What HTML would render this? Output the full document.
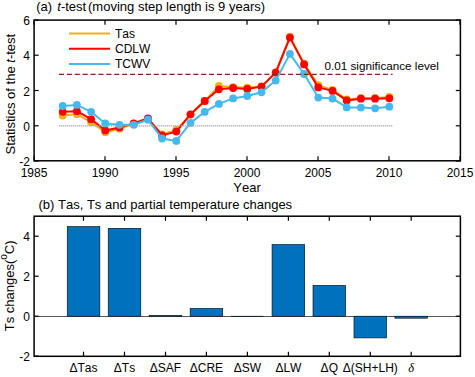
<!DOCTYPE html>
<html><head><meta charset="utf-8"><style>
html,body{margin:0;padding:0;background:#fff;}
svg{display:block;font-family:"Liberation Sans",sans-serif;font-kerning:none;}
</style></head><body>
<svg width="475" height="377" viewBox="0 0 475 377">
<rect width="475" height="377" fill="#fff"/>
<rect x="34.1" y="20.1" width="426.29999999999995" height="140.70000000000002" fill="none" stroke="#000" stroke-width="1.5"/>
<line x1="34.0" y1="160.8" x2="34.0" y2="156.20000000000002" stroke="#000" stroke-width="1.2"/>
<line x1="34.0" y1="20.1" x2="34.0" y2="24.700000000000003" stroke="#000" stroke-width="1.2"/>
<text x="34.0" y="176.6" font-size="12" text-anchor="middle">1985</text>
<line x1="105.0" y1="160.8" x2="105.0" y2="156.20000000000002" stroke="#000" stroke-width="1.2"/>
<line x1="105.0" y1="20.1" x2="105.0" y2="24.700000000000003" stroke="#000" stroke-width="1.2"/>
<text x="105.0" y="176.6" font-size="12" text-anchor="middle">1990</text>
<line x1="176.0" y1="160.8" x2="176.0" y2="156.20000000000002" stroke="#000" stroke-width="1.2"/>
<line x1="176.0" y1="20.1" x2="176.0" y2="24.700000000000003" stroke="#000" stroke-width="1.2"/>
<text x="176.0" y="176.6" font-size="12" text-anchor="middle">1995</text>
<line x1="247.0" y1="160.8" x2="247.0" y2="156.20000000000002" stroke="#000" stroke-width="1.2"/>
<line x1="247.0" y1="20.1" x2="247.0" y2="24.700000000000003" stroke="#000" stroke-width="1.2"/>
<text x="247.0" y="176.6" font-size="12" text-anchor="middle">2000</text>
<line x1="318.0" y1="160.8" x2="318.0" y2="156.20000000000002" stroke="#000" stroke-width="1.2"/>
<line x1="318.0" y1="20.1" x2="318.0" y2="24.700000000000003" stroke="#000" stroke-width="1.2"/>
<text x="318.0" y="176.6" font-size="12" text-anchor="middle">2005</text>
<line x1="389.0" y1="160.8" x2="389.0" y2="156.20000000000002" stroke="#000" stroke-width="1.2"/>
<line x1="389.0" y1="20.1" x2="389.0" y2="24.700000000000003" stroke="#000" stroke-width="1.2"/>
<text x="389.0" y="176.6" font-size="12" text-anchor="middle">2010</text>
<line x1="460.0" y1="160.8" x2="460.0" y2="156.20000000000002" stroke="#000" stroke-width="1.2"/>
<line x1="460.0" y1="20.1" x2="460.0" y2="24.700000000000003" stroke="#000" stroke-width="1.2"/>
<text x="460.0" y="176.6" font-size="12" text-anchor="middle">2015</text>
<line x1="34.1" y1="161.0" x2="38.7" y2="161.0" stroke="#000" stroke-width="1.2"/>
<line x1="460.4" y1="161.0" x2="455.79999999999995" y2="161.0" stroke="#000" stroke-width="1.2"/>
<text x="30" y="166.0" font-size="12" text-anchor="end">-2</text>
<line x1="34.1" y1="125.8" x2="38.7" y2="125.8" stroke="#000" stroke-width="1.2"/>
<line x1="460.4" y1="125.8" x2="455.79999999999995" y2="125.8" stroke="#000" stroke-width="1.2"/>
<text x="30" y="130.8" font-size="12" text-anchor="end">0</text>
<line x1="34.1" y1="90.5" x2="38.7" y2="90.5" stroke="#000" stroke-width="1.2"/>
<line x1="460.4" y1="90.5" x2="455.79999999999995" y2="90.5" stroke="#000" stroke-width="1.2"/>
<text x="30" y="95.5" font-size="12" text-anchor="end">2</text>
<line x1="34.1" y1="55.2" x2="38.7" y2="55.2" stroke="#000" stroke-width="1.2"/>
<line x1="460.4" y1="55.2" x2="455.79999999999995" y2="55.2" stroke="#000" stroke-width="1.2"/>
<text x="30" y="60.2" font-size="12" text-anchor="end">4</text>
<line x1="34.1" y1="20.0" x2="38.7" y2="20.0" stroke="#000" stroke-width="1.2"/>
<line x1="460.4" y1="20.0" x2="455.79999999999995" y2="20.0" stroke="#000" stroke-width="1.2"/>
<text x="30" y="25.0" font-size="12" text-anchor="end">6</text>
<polyline points="62.7,115.6 76.9,114.2 91.1,122.2 105.3,132.2 119.5,128.8 133.7,123.7 147.9,118.7 162.1,134.4 176.3,129.9 190.5,114.6 204.7,101.2 218.9,85.9 233.1,87.1 247.3,87.7 261.5,86.4 275.7,72.4 289.9,36.7 304.1,63.7 318.3,85.1 332.5,89.9 346.7,99.4 360.9,97.9 375.1,97.9 389.3,96.9" fill="none" stroke="#F0AF14" stroke-width="2" stroke-linejoin="round"/><circle cx="62.7" cy="115.6" r="3.9" fill="#F0AF14"/><circle cx="76.9" cy="114.2" r="3.9" fill="#F0AF14"/><circle cx="91.1" cy="122.2" r="3.9" fill="#F0AF14"/><circle cx="105.3" cy="132.2" r="3.9" fill="#F0AF14"/><circle cx="119.5" cy="128.8" r="3.9" fill="#F0AF14"/><circle cx="133.7" cy="123.7" r="3.9" fill="#F0AF14"/><circle cx="147.9" cy="118.7" r="3.9" fill="#F0AF14"/><circle cx="162.1" cy="134.4" r="3.9" fill="#F0AF14"/><circle cx="176.3" cy="129.9" r="3.9" fill="#F0AF14"/><circle cx="190.5" cy="114.6" r="3.9" fill="#F0AF14"/><circle cx="204.7" cy="101.2" r="3.9" fill="#F0AF14"/><circle cx="218.9" cy="85.9" r="3.9" fill="#F0AF14"/><circle cx="233.1" cy="87.1" r="3.9" fill="#F0AF14"/><circle cx="247.3" cy="87.7" r="3.9" fill="#F0AF14"/><circle cx="261.5" cy="86.4" r="3.9" fill="#F0AF14"/><circle cx="275.7" cy="72.4" r="3.9" fill="#F0AF14"/><circle cx="289.9" cy="36.7" r="3.9" fill="#F0AF14"/><circle cx="304.1" cy="63.7" r="3.9" fill="#F0AF14"/><circle cx="318.3" cy="85.1" r="3.9" fill="#F0AF14"/><circle cx="332.5" cy="89.9" r="3.9" fill="#F0AF14"/><circle cx="346.7" cy="99.4" r="3.9" fill="#F0AF14"/><circle cx="360.9" cy="97.9" r="3.9" fill="#F0AF14"/><circle cx="375.1" cy="97.9" r="3.9" fill="#F0AF14"/><circle cx="389.3" cy="96.9" r="3.9" fill="#F0AF14"/>
<polyline points="62.7,111.8 76.9,111.2 91.1,119.2 105.3,130.4 119.5,127.4 133.7,123.5 147.9,118.3 162.1,135.4 176.3,131.6 190.5,114.3 204.7,101.0 218.9,89.3 233.1,88.0 247.3,88.9 261.5,86.6 275.7,72.6 289.9,37.6 304.1,64.4 318.3,87.4 332.5,90.9 346.7,100.4 360.9,98.7 375.1,98.7 389.3,98.3" fill="none" stroke="#FF0000" stroke-width="2" stroke-linejoin="round"/><circle cx="62.7" cy="111.8" r="3.9" fill="#FF0000"/><circle cx="76.9" cy="111.2" r="3.9" fill="#FF0000"/><circle cx="91.1" cy="119.2" r="3.9" fill="#FF0000"/><circle cx="105.3" cy="130.4" r="3.9" fill="#FF0000"/><circle cx="119.5" cy="127.4" r="3.9" fill="#FF0000"/><circle cx="133.7" cy="123.5" r="3.9" fill="#FF0000"/><circle cx="147.9" cy="118.3" r="3.9" fill="#FF0000"/><circle cx="162.1" cy="135.4" r="3.9" fill="#FF0000"/><circle cx="176.3" cy="131.6" r="3.9" fill="#FF0000"/><circle cx="190.5" cy="114.3" r="3.9" fill="#FF0000"/><circle cx="204.7" cy="101.0" r="3.9" fill="#FF0000"/><circle cx="218.9" cy="89.3" r="3.9" fill="#FF0000"/><circle cx="233.1" cy="88.0" r="3.9" fill="#FF0000"/><circle cx="247.3" cy="88.9" r="3.9" fill="#FF0000"/><circle cx="261.5" cy="86.6" r="3.9" fill="#FF0000"/><circle cx="275.7" cy="72.6" r="3.9" fill="#FF0000"/><circle cx="289.9" cy="37.6" r="3.9" fill="#FF0000"/><circle cx="304.1" cy="64.4" r="3.9" fill="#FF0000"/><circle cx="318.3" cy="87.4" r="3.9" fill="#FF0000"/><circle cx="332.5" cy="90.9" r="3.9" fill="#FF0000"/><circle cx="346.7" cy="100.4" r="3.9" fill="#FF0000"/><circle cx="360.9" cy="98.7" r="3.9" fill="#FF0000"/><circle cx="375.1" cy="98.7" r="3.9" fill="#FF0000"/><circle cx="389.3" cy="98.3" r="3.9" fill="#FF0000"/>
<polyline points="62.7,106.0 76.9,104.9 91.1,111.8 105.3,123.4 119.5,124.8 133.7,124.8 147.9,119.7 162.1,138.5 176.3,140.9 190.5,122.9 204.7,111.9 218.9,103.9 233.1,98.4 247.3,96.0 261.5,92.3 275.7,80.6 289.9,53.9 304.1,74.0 318.3,97.6 332.5,98.6 346.7,107.4 360.9,107.6 375.1,108.3 389.3,106.7" fill="none" stroke="#45B9EF" stroke-width="2" stroke-linejoin="round"/><circle cx="62.7" cy="106.0" r="3.9" fill="#45B9EF"/><circle cx="76.9" cy="104.9" r="3.9" fill="#45B9EF"/><circle cx="91.1" cy="111.8" r="3.9" fill="#45B9EF"/><circle cx="105.3" cy="123.4" r="3.9" fill="#45B9EF"/><circle cx="119.5" cy="124.8" r="3.9" fill="#45B9EF"/><circle cx="133.7" cy="124.8" r="3.9" fill="#45B9EF"/><circle cx="147.9" cy="119.7" r="3.9" fill="#45B9EF"/><circle cx="162.1" cy="138.5" r="3.9" fill="#45B9EF"/><circle cx="176.3" cy="140.9" r="3.9" fill="#45B9EF"/><circle cx="190.5" cy="122.9" r="3.9" fill="#45B9EF"/><circle cx="204.7" cy="111.9" r="3.9" fill="#45B9EF"/><circle cx="218.9" cy="103.9" r="3.9" fill="#45B9EF"/><circle cx="233.1" cy="98.4" r="3.9" fill="#45B9EF"/><circle cx="247.3" cy="96.0" r="3.9" fill="#45B9EF"/><circle cx="261.5" cy="92.3" r="3.9" fill="#45B9EF"/><circle cx="275.7" cy="80.6" r="3.9" fill="#45B9EF"/><circle cx="289.9" cy="53.9" r="3.9" fill="#45B9EF"/><circle cx="304.1" cy="74.0" r="3.9" fill="#45B9EF"/><circle cx="318.3" cy="97.6" r="3.9" fill="#45B9EF"/><circle cx="332.5" cy="98.6" r="3.9" fill="#45B9EF"/><circle cx="346.7" cy="107.4" r="3.9" fill="#45B9EF"/><circle cx="360.9" cy="107.6" r="3.9" fill="#45B9EF"/><circle cx="375.1" cy="108.3" r="3.9" fill="#45B9EF"/><circle cx="389.3" cy="106.7" r="3.9" fill="#45B9EF"/>
<line x1="59" y1="125.9" x2="392.5" y2="125.9" stroke="#a6a6a6" stroke-width="1.1" stroke-dasharray="1.3 0.7"/>
<line x1="59" y1="74.4" x2="392.5" y2="74.4" stroke="#7a2424" stroke-width="1.35" stroke-dasharray="5 2.9"/>
<line x1="69" y1="33.5" x2="110" y2="33.5" stroke="#F0AF14" stroke-width="2"/>
<text x="115" y="37.8" font-size="12">Tas</text>
<line x1="69" y1="48.75" x2="110" y2="48.75" stroke="#FF0000" stroke-width="2"/>
<text x="115" y="53.0" font-size="12">CDLW</text>
<line x1="69" y1="64.0" x2="110" y2="64.0" stroke="#45B9EF" stroke-width="2"/>
<text x="115" y="68.3" font-size="12">TCWV</text>
<text x="324.5" y="69.8" font-size="11.7">0.01 significance level</text>
<text x="36.2" y="10.6" font-size="13">(a) <tspan dx="1.6" font-style="italic">t</tspan>-test<tspan dx="-1.8"> (moving step length is 9 years)</tspan></text>
<text x="247" y="191.6" font-size="13" text-anchor="middle">Year</text>
<text transform="translate(14.5,154.5) rotate(-90)" font-size="13">Statistics of the <tspan font-style="italic">t</tspan>-test</text>
<rect x="34.1" y="216.2" width="426.29999999999995" height="140.10000000000002" fill="none" stroke="#000" stroke-width="1.5"/>
<line x1="34.1" y1="316.5" x2="460.4" y2="316.5" stroke="#444" stroke-width="0.9"/>
<rect x="67.25" y="226.60" width="32.60" height="89.60" fill="#0072BD" stroke="#000" stroke-width="0.6"/>
<line x1="83.5" y1="356.3" x2="83.5" y2="351.7" stroke="#000" stroke-width="1.2"/>
<line x1="83.5" y1="216.2" x2="83.5" y2="220.79999999999998" stroke="#000" stroke-width="1.2"/>
<text x="83.5" y="371.8" font-size="12" text-anchor="middle">ΔTas</text>
<rect x="108.21" y="228.30" width="32.60" height="87.90" fill="#0072BD" stroke="#000" stroke-width="0.6"/>
<line x1="124.5" y1="356.3" x2="124.5" y2="351.7" stroke="#000" stroke-width="1.2"/>
<line x1="124.5" y1="216.2" x2="124.5" y2="220.79999999999998" stroke="#000" stroke-width="1.2"/>
<text x="124.5" y="371.8" font-size="12" text-anchor="middle">ΔTs</text>
<rect x="149.17" y="315.60" width="32.60" height="0.60" fill="#0072BD" stroke="#000" stroke-width="0.6"/>
<line x1="165.5" y1="356.3" x2="165.5" y2="351.7" stroke="#000" stroke-width="1.2"/>
<line x1="165.5" y1="216.2" x2="165.5" y2="220.79999999999998" stroke="#000" stroke-width="1.2"/>
<text x="165.5" y="371.8" font-size="12" text-anchor="middle">ΔSAF</text>
<rect x="190.13" y="308.40" width="32.60" height="7.80" fill="#0072BD" stroke="#000" stroke-width="0.6"/>
<line x1="206.4" y1="356.3" x2="206.4" y2="351.7" stroke="#000" stroke-width="1.2"/>
<line x1="206.4" y1="216.2" x2="206.4" y2="220.79999999999998" stroke="#000" stroke-width="1.2"/>
<text x="206.4" y="371.8" font-size="12" text-anchor="middle">ΔCRE</text>
<rect x="231.09" y="316.20" width="32.60" height="0.40" fill="#0072BD" stroke="#000" stroke-width="0.6"/>
<line x1="247.4" y1="356.3" x2="247.4" y2="351.7" stroke="#000" stroke-width="1.2"/>
<line x1="247.4" y1="216.2" x2="247.4" y2="220.79999999999998" stroke="#000" stroke-width="1.2"/>
<text x="247.4" y="371.8" font-size="12" text-anchor="middle">ΔSW</text>
<rect x="272.05" y="244.50" width="32.60" height="71.70" fill="#0072BD" stroke="#000" stroke-width="0.6"/>
<line x1="288.4" y1="356.3" x2="288.4" y2="351.7" stroke="#000" stroke-width="1.2"/>
<line x1="288.4" y1="216.2" x2="288.4" y2="220.79999999999998" stroke="#000" stroke-width="1.2"/>
<text x="288.4" y="371.8" font-size="12" text-anchor="middle">ΔLW</text>
<rect x="313.01" y="285.40" width="32.60" height="30.80" fill="#0072BD" stroke="#000" stroke-width="0.6"/>
<line x1="329.3" y1="356.3" x2="329.3" y2="351.7" stroke="#000" stroke-width="1.2"/>
<line x1="329.3" y1="216.2" x2="329.3" y2="220.79999999999998" stroke="#000" stroke-width="1.2"/>
<text x="329.3" y="371.8" font-size="12" text-anchor="middle">ΔQ</text>
<rect x="353.97" y="316.20" width="32.60" height="21.70" fill="#0072BD" stroke="#000" stroke-width="0.6"/>
<line x1="370.3" y1="356.3" x2="370.3" y2="351.7" stroke="#000" stroke-width="1.2"/>
<line x1="370.3" y1="216.2" x2="370.3" y2="220.79999999999998" stroke="#000" stroke-width="1.2"/>
<text x="370.3" y="371.8" font-size="12" text-anchor="middle">Δ(SH+LH)</text>
<rect x="394.93" y="316.20" width="32.60" height="2.00" fill="#0072BD" stroke="#000" stroke-width="0.6"/>
<line x1="411.2" y1="356.3" x2="411.2" y2="351.7" stroke="#000" stroke-width="1.2"/>
<line x1="411.2" y1="216.2" x2="411.2" y2="220.79999999999998" stroke="#000" stroke-width="1.2"/>
<text x="411.2" y="371.8" font-size="12" text-anchor="middle"><tspan font-style="italic" font-family="Liberation Serif" font-size="12.5">δ</tspan></text>
<line x1="34.1" y1="356.2" x2="38.7" y2="356.2" stroke="#000" stroke-width="1.2"/>
<line x1="460.4" y1="356.2" x2="455.79999999999995" y2="356.2" stroke="#000" stroke-width="1.2"/>
<text x="30" y="361.2" font-size="12" text-anchor="end">-2</text>
<line x1="34.1" y1="316.2" x2="38.7" y2="316.2" stroke="#000" stroke-width="1.2"/>
<line x1="460.4" y1="316.2" x2="455.79999999999995" y2="316.2" stroke="#000" stroke-width="1.2"/>
<text x="30" y="321.2" font-size="12" text-anchor="end">0</text>
<line x1="34.1" y1="276.2" x2="38.7" y2="276.2" stroke="#000" stroke-width="1.2"/>
<line x1="460.4" y1="276.2" x2="455.79999999999995" y2="276.2" stroke="#000" stroke-width="1.2"/>
<text x="30" y="281.2" font-size="12" text-anchor="end">2</text>
<line x1="34.1" y1="236.2" x2="38.7" y2="236.2" stroke="#000" stroke-width="1.2"/>
<line x1="460.4" y1="236.2" x2="455.79999999999995" y2="236.2" stroke="#000" stroke-width="1.2"/>
<text x="30" y="241.2" font-size="12" text-anchor="end">4</text>
<text x="38.5" y="209.3" font-size="13">(b) Tas, Ts and partial temperature changes</text>
<text transform="translate(13.9,331.3) rotate(-90)" font-size="13">Ts changes(<tspan dy="-6.6" font-size="10">o</tspan><tspan dy="6.6">C)</tspan></text>
</svg>
</body></html>
